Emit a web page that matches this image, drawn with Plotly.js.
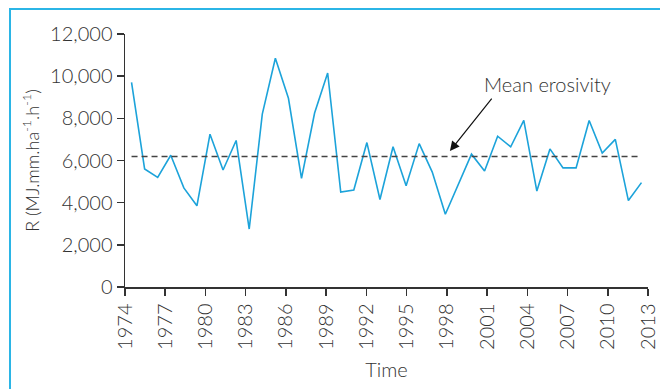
<!DOCTYPE html>
<html>
<head>
<meta charset="utf-8">
<script src="https://cdn.plot.ly/plotly-3.0.1.min.js"></script>
<style>
  html, body { margin: 0; padding: 0; background: #ffffff; overflow: hidden; }
  #wrap { position: relative; width: 660px; height: 389px; overflow: hidden; }
  #frame { position: absolute; left: 9px; top: 8px; width: 700px; height: 420px;
           border-left: 2px solid #2bb5e6; border-top: 2px solid #2bb5e6; box-sizing: border-box; }
  #chart { position: absolute; left: 0; top: 0; width: 660px; height: 389px; }
</style>
</head>
<body>
<div id="wrap">
  <div id="frame"></div>
  <div id="chart"></div>
</div>
<script>
// Years of observation
var years = [1974, 1975, 1976, 1977, 1978, 1979, 1980, 1981, 1982, 1983,
             1984, 1985, 1986, 1987, 1988, 1989, 1990, 1991, 1992, 1993,
             1994, 1995, 1996, 1997, 1998, 1999, 2000, 2001, 2002, 2003,
             2004, 2005, 2006, 2007, 2008, 2009, 2010, 2011, 2012, 2013];
// Annual rainfall erosivity R (MJ.mm.ha-1.h-1)
var erosivity = [9700, 5600, 5200, 6250, 4700, 3850, 7250, 5550, 6950, 2750,
                 8200, 10850, 8950, 5150, 8250, 10150, 4500, 4600, 6850, 4150,
                 6650, 4800, 6800, 5450, 3450, 4900, 6300, 5500, 7150, 6650,
                 7900, 4550, 6550, 5650, 5650, 7900, 6350, 7000, 4100, 4950];
// Mean erosivity
var meanErosivity = 6190;
// Tick labels shown on the time axis
var tickStart = 1974, tickEnd = 2013, tickStep = 3;

var FONT = 'Lato, "Open Sans", sans-serif';
var TXT = '#333333';

var traces = [
  {
    x: years, y: erosivity, type: 'scatter', mode: 'lines',
    line: { color: '#1ca3da', width: 1.6 }, hoverinfo: 'x+y',
    xaxis: 'x', yaxis: 'y'
  },
  {
    x: [years[0], years[years.length - 1]], y: [meanErosivity, meanErosivity],
    type: 'scatter', mode: 'lines',
    line: { color: '#444444', width: 1.6, dash: '6px,4px' },
    xaxis: 'x', yaxis: 'y'
  },
  {
    x: [tickStart, tickEnd], y: [null, null], type: 'scatter', mode: 'lines',
    xaxis: 'x2', yaxis: 'y', hoverinfo: 'skip', showlegend: false
  }
];

var layout = {
  width: 660, height: 389,
  margin: { l: 125, r: 12, t: 34, b: 102 },
  paper_bgcolor: 'rgba(0,0,0,0)', plot_bgcolor: 'rgba(0,0,0,0)',
  showlegend: false,
  font: { family: FONT, color: TXT, size: 20, weight: 300 },
  xaxis: {
    type: 'linear', range: [years[0] - 0.5, years[years.length - 1] + 0.5],
    visible: false, showgrid: false, zeroline: false, fixedrange: true
  },
  xaxis2: {
    type: 'linear', overlaying: 'x', anchor: 'y', side: 'bottom',
    range: [tickStart, tickEnd], tick0: tickStart, dtick: tickStep,
    showgrid: false, zeroline: false,
    showline: true, linecolor: '#333333', linewidth: 1.5,
    ticks: 'outside', ticklen: 7, tickwidth: 1.5, tickcolor: '#333333',
    tickangle: -90, tickformat: 'd',
    tickfont: { family: FONT, size: 20, color: TXT, weight: 300 },
    title: { text: 'Time', font: { family: FONT, size: 20, color: TXT, weight: 300 }, standoff: 14 }
  },
  yaxis: {
    range: [0, 12000], dtick: 2000, tick0: 0,
    separatethousands: true, tickformat: ',d',
    showgrid: false, zeroline: false,
    showline: true, linecolor: '#333333', linewidth: 1.5,
    ticks: 'outside', ticklen: 7, tickwidth: 1.5, tickcolor: '#333333',
    tickfont: { family: FONT, size: 20, color: TXT, weight: 300 },
    title: { text: 'R (MJ.mm.ha<sup>-1</sup>.h<sup>-1</sup>)',
             font: { family: FONT, size: 18, color: TXT, weight: 300 }, standoff: 6 }
  },
  annotations: [
    {
      x: 1998.35, y: 6450, xref: 'x', yref: 'y',
      ax: 43, ay: -54, text: '', showarrow: true,
      arrowhead: 2, arrowsize: 1.6, arrowwidth: 1.2, arrowcolor: '#111111'
    },
    {
      x: 2005.8, y: 9630, xref: 'x', yref: 'y', showarrow: false,
      text: 'Mean erosivity',
      font: { family: FONT, size: 20, color: TXT, weight: 300 }
    }
  ]
};

Plotly.newPlot('chart', traces, layout, { displayModeBar: false, staticPlot: true });
</script>
</body>
</html>
